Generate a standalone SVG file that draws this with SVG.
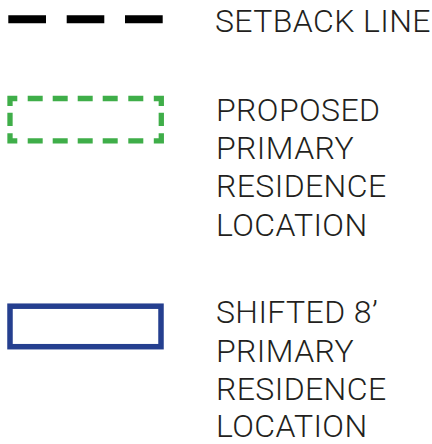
<svg xmlns="http://www.w3.org/2000/svg" width="432" height="444" viewBox="0 0 432 444">
  <style>
    .label { font-family: Roboto, "Liberation Sans", sans-serif; font-weight: 300; font-size: 32px; letter-spacing: 0.4px; fill: #231f20; }
    .setback { stroke: #000; stroke-width: 8; fill: none; stroke-linecap: butt; }
    .proposed { stroke: #3fae49; stroke-width: 5.3; fill: none; stroke-linecap: butt; stroke-linejoin: miter; }
    .shifted { stroke: #253f8f; stroke-width: 5.5; fill: none; }
  </style>
  <rect width="432" height="444" fill="#fff"/>

  <!-- Setback line legend entry -->
  <g id="setback-line">
    <path class="setback" d="M8.3 19.2H46 M66.7 19.2H104.3 M125 19.2H162.7"/>
    <text class="label" x="215" y="31.7">SETBACK LINE</text>
  </g>

  <!-- Proposed residence: dashed outline -->
  <g id="proposed-residence">
    <path class="proposed" d="
      M10 106V98.5H17.3
      M27.7 98.5H42.7 M52.7 98.5H67.7 M77.7 98.5H92.7 M102.7 98.5H117.7 M128.3 98.5H143.3
      M153.8 98.5H161.3V106
      M161.3 112.7V126
      M161.3 133.3V140.8H153.8
      M143.3 140.8H128.3 M117.7 140.8H102.7 M92.7 140.8H77.7 M67.7 140.8H52.7 M42.7 140.8H27.7
      M17.3 140.8H10V133.3
      M10 126V112.7"/>
    <text class="label" x="216">
      <tspan x="216" y="120.7">PROPOSED</tspan>
      <tspan x="216" y="159">PRIMARY</tspan>
      <tspan x="216" y="197.3">RESIDENCE</tspan>
      <tspan x="216" y="235.7">LOCATION</tspan>
    </text>
  </g>

  <!-- Shifted residence: solid outline -->
  <g id="shifted-residence">
    <rect class="shifted" x="10" y="306.2" width="151" height="40.5"/>
    <text class="label" x="216">
      <tspan x="216" y="323.3">SHIFTED 8’</tspan>
      <tspan x="216" y="361.7">PRIMARY</tspan>
      <tspan x="216" y="400">RESIDENCE</tspan>
      <tspan x="216" y="437.3">LOCATION</tspan>
    </text>
  </g>
</svg>
